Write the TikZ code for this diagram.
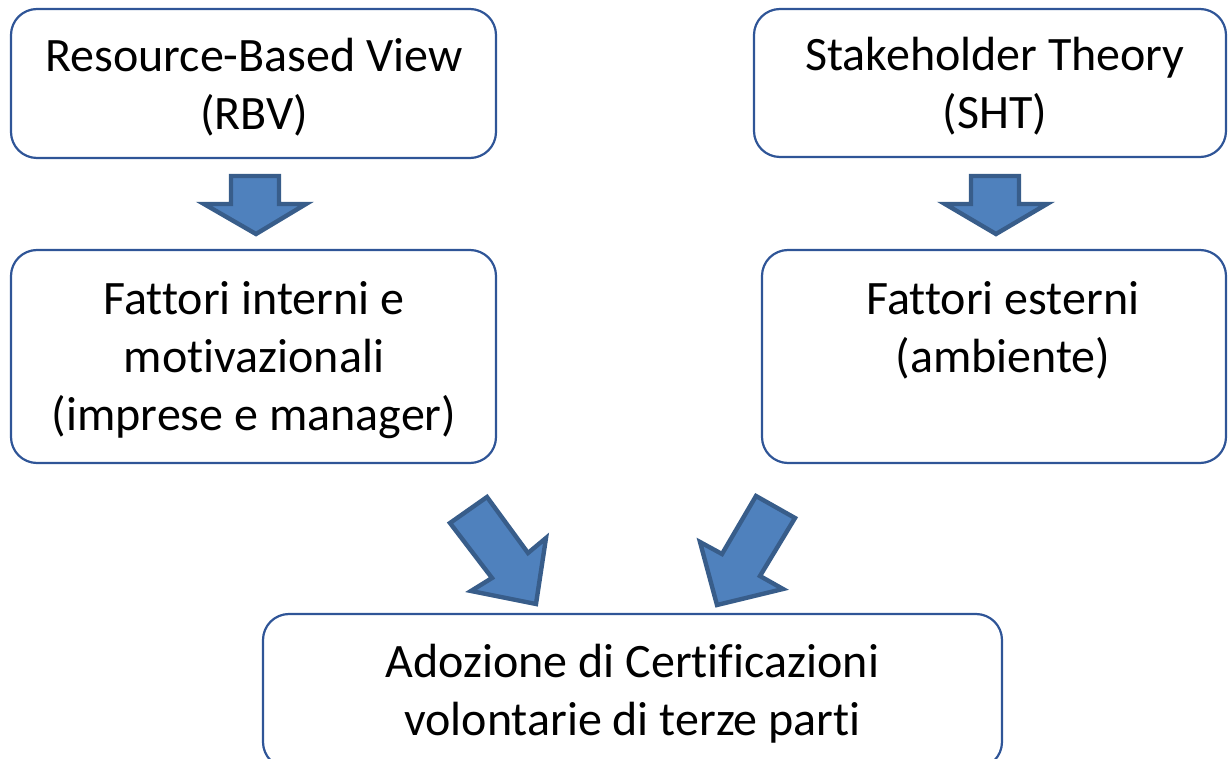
\documentclass[tikz,border=0pt]{standalone}
\usepackage{fontspec}
\setmainfont{Carlito}[Ligatures=NoCommon]
\definecolor{boxline}{HTML}{2F5597}
\definecolor{arrfill}{HTML}{4F81BD}
\definecolor{arrline}{HTML}{385D8A}
\begin{document}
\begin{tikzpicture}[x=0.5pt,y=-0.5pt,
  box/.style={draw=boxline,line width=1.1pt,rounded corners=13pt,rectangle,inner sep=0pt},
  lbl/.style={align=center,inner sep=0pt,font=\fontsize{24}{29}\selectfont},
  blockarrow/.style={fill=arrfill,draw=arrline,line width=2.2pt,line join=miter}]
\useasboundingbox (0,0) rectangle (1228,759);
\clip (0,0) rectangle (1228,759);
\node[box,minimum width=242.5pt,minimum height=74.5pt] (rbv) at (253.5,83.5) {};
\node[lbl] (rbvt) at (254,87) {Resource-Based View\\(RBV)};
\node[box,minimum width=236pt,minimum height=74pt] (sht) at (990,83) {};
\node[lbl] (shtt) at (995,86) {Stakeholder Theory\\(SHT)};
\node[box,minimum width=242.5pt,minimum height=106.5pt] (int) at (253.5,356.5) {};
\node[lbl] (intt) at (254,360) {Fattori interni e\\motivazionali\\(imprese e manager)};
\node[box,minimum width=232pt,minimum height=106.5pt] (ext) at (994,356.5) {};
\node[lbl] (extt) at (1003,330) {Fattori esterni\\(ambiente)};
\node[box,minimum width=369.5pt,minimum height=77pt] (cert) at (632.5,691) {};
\node[lbl] (certt) at (632.5,693.5) {Adozione di Certificazioni\\volontarie di terze parti};
% block arrows
\draw[blockarrow] (231,176) -- (279,176) -- (279,204) -- (306,204) -- (256,234) -- (204,204) -- (231,204) -- cycle;
\draw[blockarrow] (971,176) -- (1019,176) -- (1019,204) -- (1047,204) -- (996,234) -- (945,204) -- (971,204) -- cycle;
\draw[blockarrow] (450,523) -- (487,497) -- (528,553) -- (546,538) -- (536,604) -- (471,591) -- (492,578) -- cycle;
\draw[blockarrow] (756,496) -- (795,518) -- (760,576) -- (783,589) -- (717,605) -- (700,542) -- (722,554) -- cycle;
\end{tikzpicture}
\end{document}
